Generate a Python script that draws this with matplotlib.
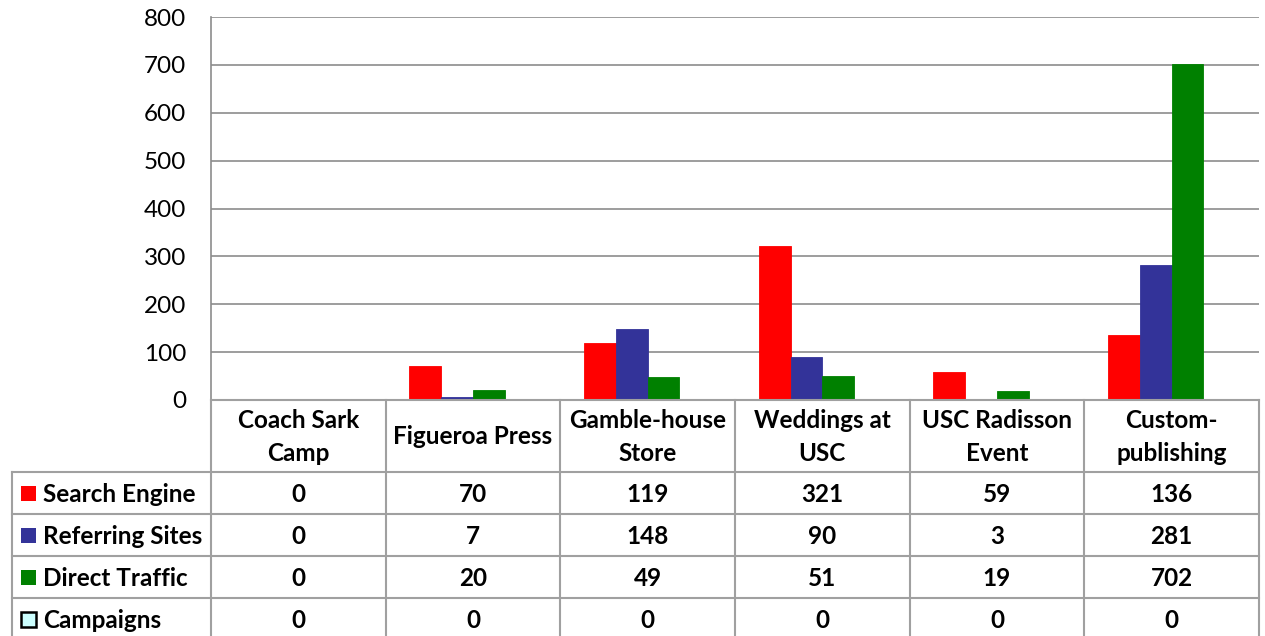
import matplotlib
matplotlib.use('Agg')
from matplotlib import pyplot as plt
from matplotlib.patches import Rectangle
import numpy as np

categories = ['Coach Sark\nCamp', 'Figueroa Press', 'Gamble-house\nStore',
              'Weddings at\nUSC', 'USC Radisson\nEvent', 'Custom-\npublishing']
series_names = ['Search Engine', 'Referring Sites', 'Direct Traffic', 'Campaigns']
search_engine = [0, 70, 119, 321, 59, 136]
referring_sites = [0, 7, 148, 90, 3, 281]
direct_traffic = [0, 20, 49, 51, 19, 702]
campaigns = [0, 0, 0, 0, 0, 0]
y_ticks = [0, 100, 200, 300, 400, 500, 600, 700, 800]

colors = ['#FF0000', '#333399', '#008000', '#CCFFFF']
edges = ['#FF0000', '#333399', '#008000', '#000000']
grid_color = '#8C8C8C'
font = ['Lato', 'DejaVu Sans']

W, H = 1265, 636
fig = plt.figure(figsize=(W / 100, H / 100), dpi=100)

# plot area in pixel coordinates
left, right, top, bottom = 211, 1259, 17, 400
ax = fig.add_axes([left / W, 1 - bottom / H, (right - left) / W, (bottom - top) / H])
ax.set_xlim(0, len(categories))
ax.set_ylim(0, 800)

all_series = [search_engine, referring_sites, direct_traffic, campaigns]
bar_width = 1 / (len(all_series) + 1.5)
x = np.arange(len(categories))
for i, values in enumerate(all_series):
    offset = 0.75 * bar_width + i * bar_width
    ax.bar(x + offset, values, width=bar_width, align='edge', color=colors[i],
           edgecolor=edges[i] if i < 3 else 'none', linewidth=0.6, zorder=3)

ax.set_yticks(y_ticks)
ax.set_xticks([])
ax.grid(axis='y', color=grid_color, linewidth=1.2, zorder=0)
for side in ('top', 'right', 'bottom'):
    ax.spines[side].set_visible(False)
ax.spines['left'].set_color(grid_color)
ax.spines['left'].set_linewidth(1.2)
ax.tick_params(axis='y', length=0, pad=18, labelsize=17.5)
for label in ax.get_yticklabels():
    label.set_family(font)

# data table drawn in pixel space over the whole figure
tab = fig.add_axes([0, 0, 1, 1])
tab.set_xlim(0, W)
tab.set_ylim(H, 0)
tab.axis('off')

col_edges = np.linspace(left, right, len(categories) + 1)
header_bottom = 472
row_height = 42
row_edges = [header_bottom + k * row_height for k in range(len(all_series) + 1)]
legend_left = 12
line_kw = dict(color='#A0A0A0', linewidth=1.5)

# vertical lines
for cx in col_edges:
    tab.plot([cx, cx], [bottom, row_edges[-1]], **line_kw)
tab.plot([legend_left, legend_left], [header_bottom, row_edges[-1]], **line_kw)
# horizontal lines
tab.plot([left, right], [bottom, bottom], **line_kw)
for ry in row_edges:
    tab.plot([legend_left, right], [ry, ry], **line_kw)

text_kw = dict(fontsize=17.5, fontweight='bold', family=font, color='black')
for j, name in enumerate(categories):
    cx = (col_edges[j] + col_edges[j + 1]) / 2
    tab.text(cx, (bottom + header_bottom) / 2 + 1, name, ha='center', va='center',
             linespacing=1.5, **text_kw)

for i, (name, values) in enumerate(zip(series_names, all_series)):
    cy = (row_edges[i] + row_edges[i + 1]) / 2
    tab.add_patch(Rectangle((21, cy - 7), 15, 15, facecolor=colors[i],
                            edgecolor=edges[i], linewidth=1.8 if i == 3 else 0))
    tab.text(43, cy + 2, name, ha='left', va='center', **text_kw)
    for j, v in enumerate(values):
        cx = (col_edges[j] + col_edges[j + 1]) / 2
        tab.text(cx, cy + 2, str(v), ha='center', va='center', **text_kw)

fig.savefig('out.png', dpi=100)
